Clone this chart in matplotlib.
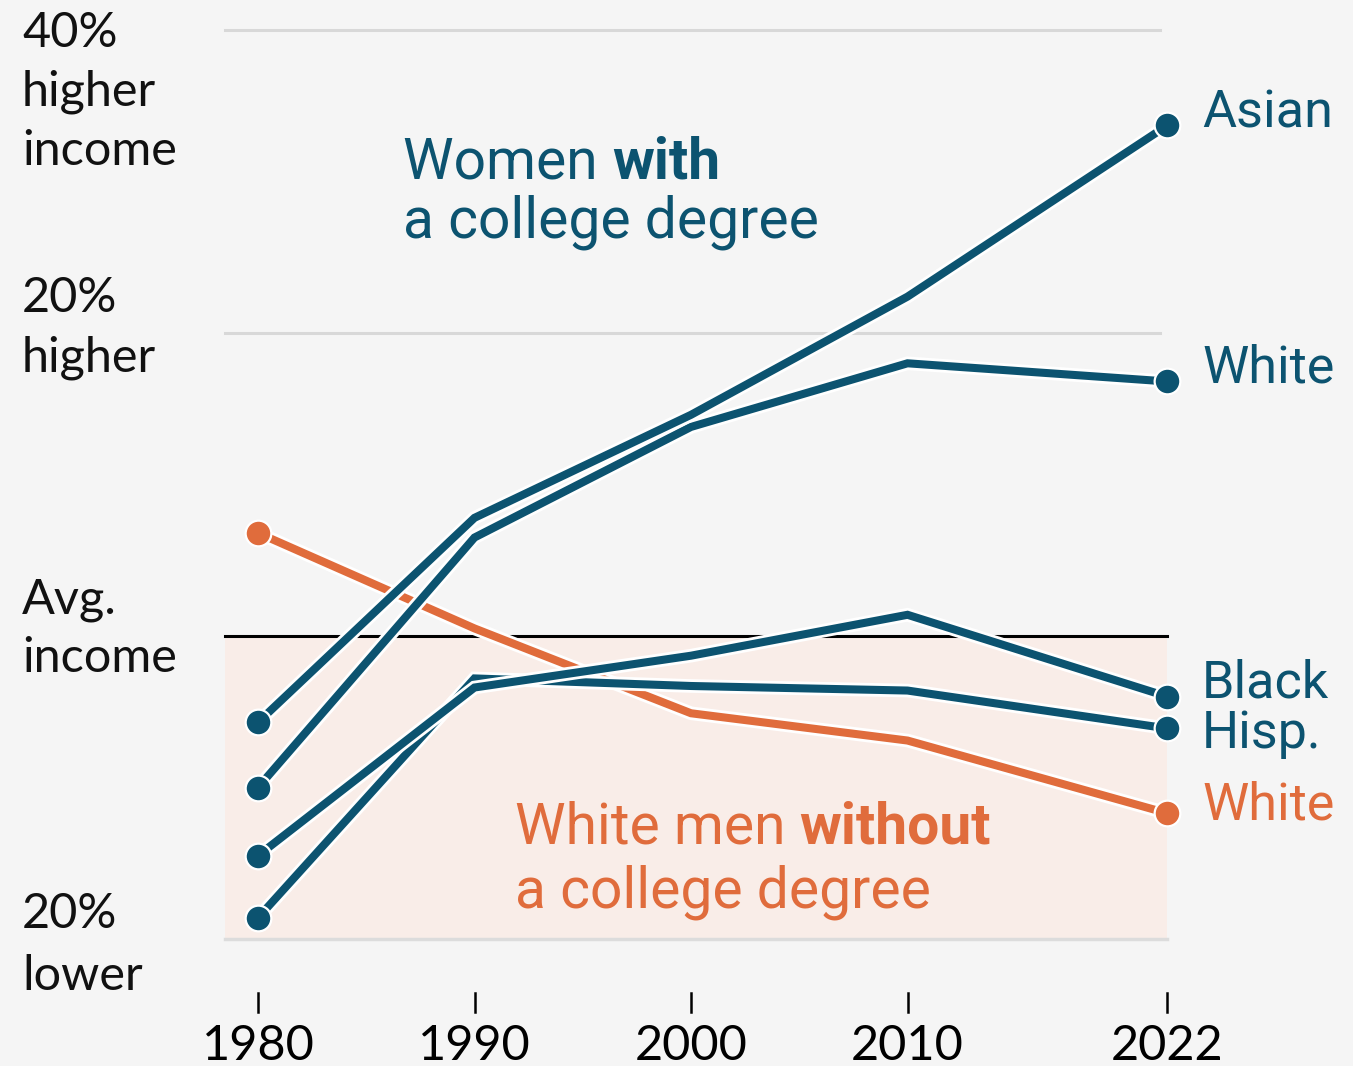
import matplotlib
matplotlib.use("Agg")
import matplotlib.pyplot as plt
import matplotlib.patheffects as pe

years = [1980, 1990, 2000, 2010, 2022]
asian = [-5.7, 7.8, 14.6, 22.4, 33.7]
white_women = [-10.0, 6.5, 13.8, 18.0, 16.8]
black = [-14.5, -3.4, -1.3, 1.4, -4.0]
hispanic = [-18.6, -2.8, -3.3, -3.6, -6.1]
white_men = [6.8, 0.5, -5.1, -6.9, -11.7]

teal = "#0c5370"
orange = "#e06c3c"
bg = "#f5f5f5"

# pixel -> data helpers (canvas is 1353 x 1066)
def px_x(p):
    return 1980 + (p - 258) / 21.65

def px_y(p):
    return (636 - p) / 15.15

fig = plt.figure(figsize=(13.53, 10.66), dpi=100, facecolor=bg)
ax = fig.add_axes([0, 0, 1, 1])
ax.set_facecolor(bg)
ax.set_xlim(px_x(0), px_x(1353))
ax.set_ylim(px_y(1066), px_y(0))
ax.axis("off")

# shaded band below average
ax.fill_between([px_x(225), 2022], -20, 0, color="#f9ede8", zorder=0, lw=0)
for g in [40, 20]:
    ax.plot([px_x(225), px_x(1160)], [g, g], color="#d8d8d8", lw=2.2, zorder=1)
ax.plot([px_x(225), 2022], [-20, -20], color="#dcdcdc", lw=2.5, zorder=1)
ax.plot([px_x(225), 2022], [0, 0], color="black", lw=2.2, zorder=1)

stroke = [pe.Stroke(linewidth=9.8, foreground="white"), pe.Normal()]

def draw(vals, col, z):
    ax.plot(years, vals, color=col, lw=5.8, solid_joinstyle="miter",
            solid_capstyle="butt", path_effects=stroke, zorder=z)
    ax.plot([years[0], years[-1]], [vals[0], vals[-1]], "o", color=col,
            ms=18.5, mec="white", mew=1.6, zorder=z + 0.5, ls="none")

draw(white_men, orange, 3)
draw(hispanic, teal, 4)
draw(black, teal, 5)
draw(white_women, teal, 6)
draw(asian, teal, 7)

# x ticks
for y in years:
    ax.plot([y, y], [px_y(993), px_y(1012)], color="black", lw=1.8)
    ax.text(y, px_y(1060), str(y), ha="center", va="baseline",
            fontsize=35, family="Lato", color="black")

# left labels
left = [("40%", 47), ("higher", 105), ("income", 165),
        ("20%", 312), ("higher", 372),
        ("Avg.", 613), ("income", 672),
        ("20%", 928), ("lower", 990)]
for s, b in left:
    ax.text(px_x(22), px_y(b), s, ha="left", va="baseline",
            fontsize=35, family="Lato", color="#111111")

# right labels
right = [("Asian", 127, teal), ("White", 382, teal), ("Black", 698, teal),
         ("Hisp.", 748, teal), ("White", 820, orange)]
for s, b, c in right:
    ax.text(px_x(1202), px_y(b), s, ha="left", va="baseline",
            fontsize=37.5, family="Roboto", color=c)

# group annotations
def two_part(x, b1, b2, regular, bold, second, col):
    t = ax.text(px_x(x), px_y(b1), regular, ha="left", va="baseline",
                fontsize=41, family="Roboto", color=col)
    ax.annotate(bold, xy=(1, 0), xycoords=t, ha="left", va="bottom",
                fontsize=41, family="Roboto", fontweight="bold", color=col)
    ax.text(px_x(x), px_y(b2), second, ha="left", va="baseline",
            fontsize=41, family="Roboto", color=col)

two_part(403, 178, 238, "Women ", "with", "a college degree", teal)
two_part(515, 844, 908, "White men ", "without", "a college degree", orange)

fig.savefig("out.png", dpi=100, facecolor=bg)
